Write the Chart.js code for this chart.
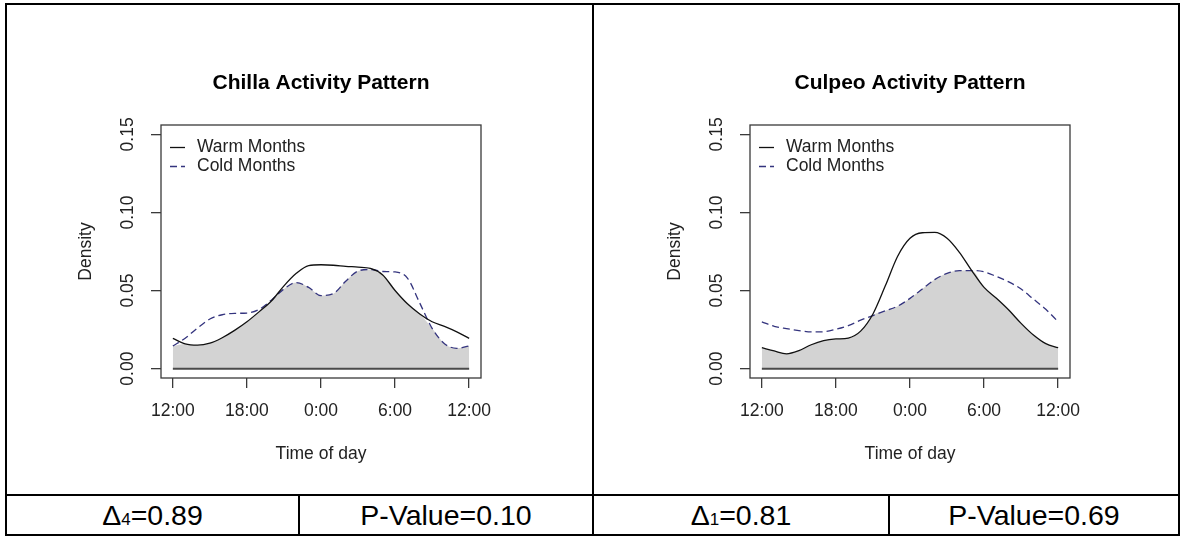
<!DOCTYPE html>
<html>
<head>
<meta charset="utf-8">
<script src="https://cdn.jsdelivr.net/npm/chart.js@4.4.1/dist/chart.umd.min.js"></script>
<style>
  html, body { margin: 0; padding: 0; background: #fff; }
  body { width: 1180px; height: 537px; position: relative; overflow: hidden;
         font-family: "Liberation Sans", Arial, sans-serif; }
  .ln { position: absolute; background: #000; }
  canvas { position: absolute; }
  .cell { position: absolute; top: 496px; height: 38px; display: flex; align-items: center;
          justify-content: center; font-size: 28.5px; color: #000; }
  .cell sub { font-size: 17px; vertical-align: baseline; position: relative; top: 5px; line-height: 0; }
</style>
</head>
<body>
<!-- table lines -->
<div class="ln" style="left:5px;top:3px;width:1175px;height:2px"></div>
<div class="ln" style="left:5px;top:3px;width:2px;height:533px"></div>
<div class="ln" style="left:1178px;top:3px;width:2px;height:533px"></div>
<div class="ln" style="left:5px;top:534px;width:1175px;height:2px"></div>
<div class="ln" style="left:592px;top:3px;width:2px;height:533px"></div>
<div class="ln" style="left:5px;top:494px;width:1175px;height:2px"></div>
<div class="ln" style="left:298px;top:494px;width:2px;height:42px"></div>
<div class="ln" style="left:888px;top:494px;width:2px;height:42px"></div>

<canvas id="chillaChart" width="585" height="489" style="left:7px;top:5px"></canvas>
<canvas id="culpeoChart" width="582" height="489" style="left:596px;top:5px"></canvas>

<div class="cell" style="left:7px;width:291px">&Delta;<sub>4</sub>=0.89</div>
<div class="cell" style="left:300px;width:292px">P-Value=0.10</div>
<div class="cell" style="left:594px;width:294px">&Delta;<sub>1</sub>=0.81</div>
<div class="cell" style="left:890px;width:288px">P-Value=0.69</div>

<script>
// hours after noon (12:00 -> 12:00)
const hours = [0, 1, 2, 3, 4, 5, 6, 7, 8, 9, 10, 11, 12, 13, 14, 15, 16, 17, 18, 19, 20, 21, 22, 23, 24];
const xTickHours = [0, 6, 12, 18, 24];
const xTickLabels = ['12:00', '18:00', '0:00', '6:00', '12:00'];
const yTicks = [0, 0.05, 0.10, 0.15];
const yTickLabels = ['0.00', '0.05', '0.10', '0.15'];

const chillaWarm = [0.0194, 0.0158, 0.0150, 0.0163, 0.0198, 0.0245, 0.0300, 0.0365, 0.0435, 0.0530, 0.0610, 0.0660,
    0.0665, 0.0662, 0.0655, 0.0650, 0.0642, 0.0600, 0.0500, 0.0415, 0.0350, 0.0300, 0.0270, 0.0235, 0.0194];
const chillaCold = [0.0145, 0.0195, 0.0260, 0.0318, 0.0345, 0.0354, 0.0356, 0.0380, 0.0440, 0.0510, 0.0551, 0.0520,
    0.0468, 0.0480, 0.0560, 0.0625, 0.0635, 0.0622, 0.0619, 0.0580, 0.0420, 0.0258, 0.0160, 0.0130, 0.0145];

const culpeoWarm = [0.0134, 0.0113, 0.0095, 0.0115, 0.0153, 0.0179, 0.0190, 0.0196, 0.0240, 0.0350, 0.0530, 0.0720,
    0.0835, 0.0870, 0.0872, 0.0835, 0.0745, 0.0628, 0.0520, 0.0450, 0.0375, 0.0290, 0.0215, 0.0160, 0.0134];
const culpeoCold = [0.0300, 0.0271, 0.0256, 0.0244, 0.0235, 0.0236, 0.0252, 0.0275, 0.0310, 0.0340, 0.0370, 0.0400,
    0.0450, 0.0510, 0.0570, 0.0610, 0.0628, 0.0628, 0.0620, 0.0590, 0.0555, 0.0510, 0.0445, 0.0380, 0.0300];

const seriesNames = ['Warm Months', 'Cold Months'];

Chart.defaults.font.family = '"Liberation Sans", Arial, sans-serif';

// box round the plot region and the legend inside it, like R's box() + legend()
const plotFrame = {
    id: 'plotFrame',
    afterDatasetsDraw(chart, args, opts) {
        const { ctx, chartArea: a } = chart;
        ctx.save();
        ctx.strokeStyle = '#3a3a3a';
        ctx.lineWidth = 1.3;
        ctx.strokeRect(a.left, a.top, a.right - a.left, a.bottom - a.top);

        ctx.font = '17.5px "Liberation Sans", Arial, sans-serif';
        ctx.textBaseline = 'middle';
        chart.data.datasets.filter(d => d.inLegend).forEach((d, i) => {
            const y = a.top + 22.5 + i * 19;
            ctx.strokeStyle = d.borderColor;
            ctx.lineWidth = d.borderWidth;
            ctx.setLineDash(d.borderDash || []);
            ctx.beginPath();
            ctx.moveTo(a.left + 9, y);
            ctx.lineTo(a.left + 24, y);
            ctx.stroke();
            ctx.setLineDash([]);
            ctx.fillStyle = '#222';
            ctx.fillText(d.label, a.left + 36, y);
        });
        ctx.restore();
    }
};

function toPoints(values) {
    return hours.map((h, i) => ({ x: h, y: values[i] }));
}

function makeChart(id, title, warm, cold) {
    const canvas = document.getElementById(id);
    const overlap = warm.map((v, i) => Math.min(v, cold[i]));
    new Chart(canvas.getContext('2d'), {
        type: 'line',
        data: {
            datasets: [
                {
                    label: seriesNames[0],
                    data: toPoints(warm),
                    borderColor: '#111111',
                    borderWidth: 1.3,
                    pointRadius: 0,
                    cubicInterpolationMode: 'monotone',
                    inLegend: true,
                    order: 1
                },
                {
                    label: seriesNames[1],
                    data: toPoints(cold),
                    borderColor: '#34347e',
                    borderWidth: 1.3,
                    borderDash: [7, 4],
                    pointRadius: 0,
                    cubicInterpolationMode: 'monotone',
                    inLegend: true,
                    order: 2
                },
                {
                    label: 'Baseline',
                    data: [{ x: xTickHours[0], y: 0 }, { x: xTickHours[xTickHours.length - 1], y: 0 }],
                    borderColor: '#4a4a4a',
                    borderWidth: 2,
                    pointRadius: 0,
                    order: 3
                },
                {
                    label: 'Overlap',
                    data: toPoints(overlap),
                    borderWidth: 0,
                    pointRadius: 0,
                    backgroundColor: '#d3d3d3',
                    fill: 'origin',
                    cubicInterpolationMode: 'monotone',
                    order: 4
                }
            ]
        },
        options: {
            responsive: false,
            animation: false,
            events: [],
            devicePixelRatio: 1,
            layout: {
                padding: { left: 0, top: 0, bottom: 0, right: canvas.width - 474 }
            },
            scales: {
                x: {
                    type: 'linear',
                    min: -0.96,
                    max: 24.96,
                    afterBuildTicks: axis => { axis.ticks = xTickHours.map(v => ({ value: v })); },
                    afterFit: axis => { axis.height = 116; },
                    ticks: {
                        autoSkip: false,
                        maxRotation: 0,
                        padding: 13,
                        color: '#222',
                        font: { size: 17.5 },
                        callback: value => xTickLabels[xTickHours.indexOf(value)]
                    },
                    grid: {
                        drawOnChartArea: false,
                        tickLength: 10,
                        tickColor: '#3a3a3a',
                        lineWidth: 1.3
                    },
                    border: { display: false },
                    title: {
                        display: true,
                        text: 'Time of day',
                        color: '#222',
                        font: { size: 17.5 },
                        padding: { top: 0, bottom: 29 }
                    }
                },
                y: {
                    min: -0.006,
                    max: 0.156,
                    afterBuildTicks: axis => { axis.ticks = yTicks.map(v => ({ value: v })); },
                    afterFit: axis => { axis.width = 154; },
                    ticks: {
                        minRotation: 90,
                        maxRotation: 90,
                        crossAlign: 'center',
                        padding: 6,
                        color: '#222',
                        font: { size: 17.5 },
                        callback: value => yTickLabels[yTicks.indexOf(value)]
                    },
                    grid: {
                        drawOnChartArea: false,
                        tickLength: 10,
                        tickColor: '#3a3a3a',
                        lineWidth: 1.3
                    },
                    border: { display: false },
                    title: {
                        display: true,
                        text: 'Density',
                        color: '#222',
                        font: { size: 17.5 },
                        padding: { top: 68.5, bottom: 0 }
                    }
                }
            },
            plugins: {
                legend: { display: false },
                tooltip: { enabled: false },
                title: {
                    display: true,
                    text: title,
                    fullSize: false,
                    color: '#000',
                    font: { size: 21, weight: 'bold' },
                    padding: { top: 65.7, bottom: 29.1 }
                }
            }
        },
        plugins: [plotFrame]
    });
}

makeChart('chillaChart', 'Chilla Activity Pattern', chillaWarm, chillaCold);
makeChart('culpeoChart', 'Culpeo Activity Pattern', culpeoWarm, culpeoCold);
</script>
</body>
</html>
